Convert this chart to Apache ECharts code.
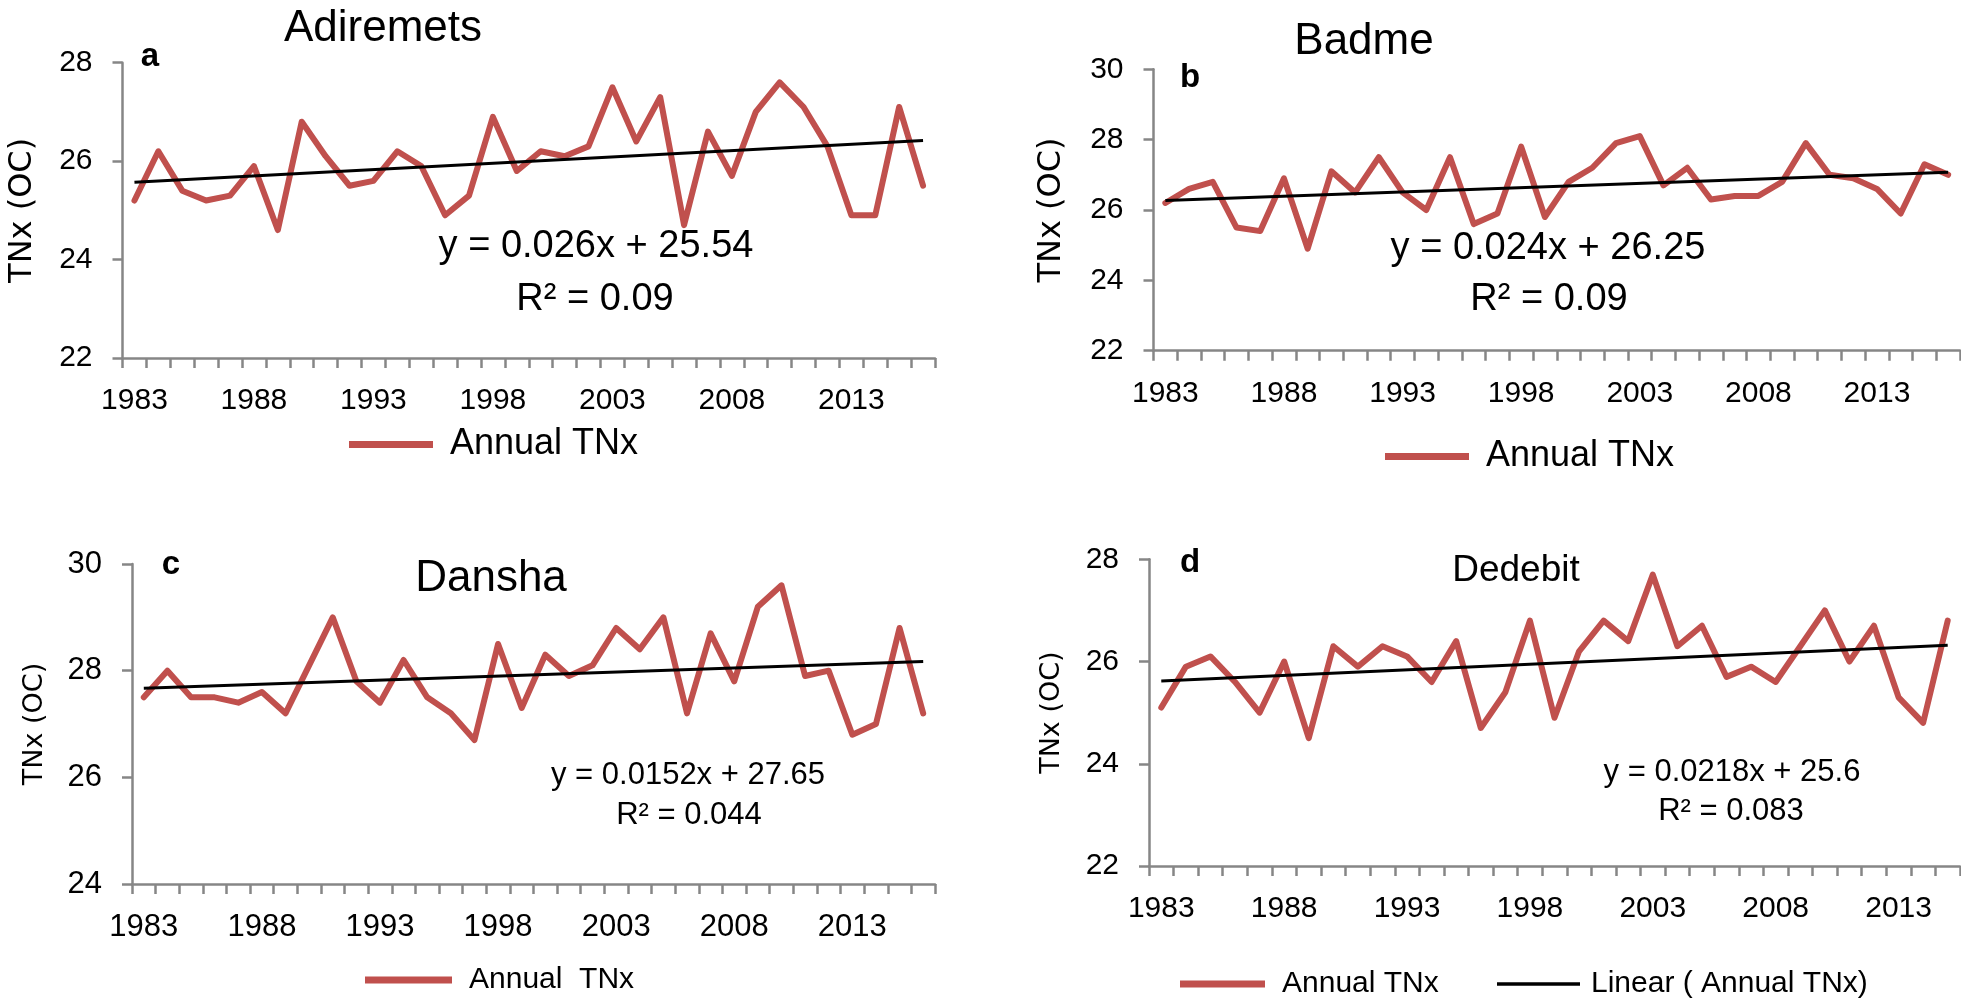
<!DOCTYPE html>
<html><head><meta charset="utf-8">
<script src="https://cdn.jsdelivr.net/npm/echarts@6/dist/echarts.min.js"></script>
<style>html,body{margin:0;padding:0;background:#fff}#chart{width:1961px;height:1003px}</style>
</head><body><div id="chart"></div>
<script>
// ---- data ----
const years34 = ['1983','1984','1985','1986','1987','1988','1989','1990','1991','1992','1993','1994','1995','1996','1997','1998','1999','2000','2001','2002','2003','2004','2005','2006','2007','2008','2009','2010','2011','2012','2013','2014','2015','2016'];
const years33 = ['1983','1984','1985','1986','1987','1988','1989','1990','1991','1992','1993','1994','1995','1996','1997','1998','1999','2000','2001','2002','2003','2004','2005','2006','2007','2008','2009','2010','2011','2012','2013','2014','2015'];
const valuesA = [25.2,26.2,25.4,25.2,25.3,25.9,24.6,26.8,26.1,25.5,25.6,26.2,25.9,24.9,25.3,26.9,25.8,26.2,26.1,26.3,27.5,26.4,27.3,24.7,26.6,25.7,27.0,27.6,27.1,26.3,24.9,24.9,27.1,25.5];
const valuesB = [26.2,26.6,26.8,25.5,25.4,26.9,24.9,27.1,26.5,27.5,26.5,26.0,27.5,25.6,25.9,27.8,25.8,26.8,27.2,27.9,28.1,26.7,27.2,26.3,26.4,26.4,26.8,27.9,27.0,26.9,26.6,25.9,27.3,27.0];
const valuesC = [27.5,28.0,27.5,27.5,27.4,27.6,27.2,28.1,29.0,27.8,27.4,28.2,27.5,27.2,26.7,28.5,27.3,28.3,27.9,28.1,28.8,28.4,29.0,27.2,28.7,27.8,29.2,29.6,27.9,28.0,26.8,27.0,28.8,27.2];
const valuesD = [25.1,25.9,26.1,25.6,25.0,26.0,24.5,26.3,25.9,26.3,26.1,25.6,26.4,24.7,25.4,26.8,24.9,26.2,26.8,26.4,27.7,26.3,26.7,25.7,25.9,25.6,26.3,27.0,26.0,26.7,25.3,24.8,26.8];
// trend line end values (first year, last year)
const trendA = [25.57, 26.42];
const trendB = [26.27, 27.07];
const trendC = [27.67, 28.17];
const trendD = [25.62, 26.32];
const yRangeA = [22, 28], yRangeB = [22, 30], yRangeC = [24, 30], yRangeD = [22, 28];
const stations = ['Adiremets', 'Badme', 'Dansha', 'Dedebit'];
const panelLetters = ['a', 'b', 'c', 'd'];
const equations = ['y = 0.026x + 25.54', 'y = 0.024x + 26.25', 'y = 0.0152x + 27.65', 'y = 0.0218x + 25.6'];
const r2Texts = ['R² = 0.09', 'R² = 0.09', 'R² = 0.044', 'R² = 0.083'];
const seriesNames = ['Annual TNx', 'Annual TNx', 'Annual  TNx', 'Annual TNx'];
const trendName = 'Linear ( Annual TNx)';
const yName = 'TNx (OC)';

// ---- layout ----
const RED = '#C0504D', AXIS = '#868686';
const FONT = '"Liberation Sans", Arial, sans-serif';
const panels = [
  {cats: years34, vals: valuesA, trend: trendA, yr: yRangeA,
   grid: {left: 122.5, top: 62.7, width: 812.5, height: 295.3},
   tickFont: 30, nameFont: 32, nameGap: 84,
   title: [383, 29, 44], letter: [150, 57], eq: [596, 247, 38], r2: [595, 300, 38],
   legend: {left: 344, cy: 443, font: 36, w: 84}},
  {cats: years34, vals: valuesB, trend: trendB, yr: yRangeB,
   grid: {left: 1153.5, top: 69.3, width: 806.5, height: 281.4},
   tickFont: 30, nameFont: 32, nameGap: 86,
   title: [1364, 42, 44], letter: [1190, 78], eq: [1548, 249, 38], r2: [1549, 300, 38],
   legend: {left: 1380, cy: 455, font: 36, w: 84}},
  {cats: years34, vals: valuesC, trend: trendC, yr: yRangeC,
   grid: {left: 132, top: 564, width: 803, height: 320},
   tickFont: 31, nameFont: 27, nameGap: 84,
   title: [491, 579, 44], letter: [171, 565], eq: [688, 775, 31], r2: [689, 815, 31],
   legend: {left: 360, cy: 978, font: 30, w: 87}},
  {cats: years33, vals: valuesD, trend: trendD, yr: yRangeD,
   grid: {left: 1149, top: 559.3, width: 811, height: 306.7},
   tickFont: 30, nameFont: 27, nameGap: 84,
   title: [1516, 571, 37], letter: [1190, 563], eq: [1732, 772, 31], r2: [1731, 811, 31],
   legend: {left: 1175, cy: 982, font: 30, w: 85}, legend2: {left: 1492}}
];

const option = {
  backgroundColor: '#fff', animation: false,
  grid: [], xAxis: [], yAxis: [], series: [], legend: [], graphic: []
};

panels.forEach((p, i) => {
  option.grid.push(Object.assign({containLabel: false}, p.grid));
  option.xAxis.push({
    type: 'category', gridIndex: i, data: p.cats, boundaryGap: true,
    axisLine: {lineStyle: {color: AXIS, width: 2.5}},
    axisTick: {show: true, interval: 0, length: 10, inside: false, lineStyle: {color: AXIS, width: 2.5}},
    axisLabel: {interval: 4, margin: 28, color: '#000', fontSize: p.tickFont, fontFamily: FONT},
    splitLine: {show: false}
  });
  option.yAxis.push({
    type: 'value', gridIndex: i, min: p.yr[0], max: p.yr[1], interval: 2,
    name: yName, nameLocation: 'middle', nameGap: p.nameGap,
    nameTextStyle: {color: '#000', fontSize: p.nameFont, fontFamily: '"DejaVu Sans", sans-serif'},
    axisLine: {show: true, lineStyle: {color: AXIS, width: 2.5}},
    axisTick: {show: true, length: 10, lineStyle: {color: AXIS, width: 2.5}},
    axisLabel: {margin: 30, color: '#000', fontSize: p.tickFont, fontFamily: FONT},
    splitLine: {show: false}
  });
  option.series.push({
    type: 'line', name: seriesNames[i], xAxisIndex: i, yAxisIndex: i,
    data: p.vals, symbol: 'none', z: 2,
    lineStyle: {color: RED, width: 6, cap: 'round', join: 'round'},
    itemStyle: {color: RED}
  });
  option.series.push({
    type: 'line', name: trendName, xAxisIndex: i, yAxisIndex: i,
    data: [[0, p.trend[0]], [p.cats.length - 1, p.trend[1]]], symbol: 'none', z: 3,
    lineStyle: {color: '#000', width: 3},
    itemStyle: {color: '#000'}
  });
  const L = p.legend;
  option.legend.push({
    left: L.left, top: L.cy - L.font * 0.6, itemWidth: L.w, itemHeight: 7, itemGap: 20,
    selectedMode: false,
    data: [{name: seriesNames[i], icon: 'rect', itemStyle: {color: RED}}],
    textStyle: {color: '#000', fontSize: L.font, fontFamily: FONT, padding: [0, 0, 0, 12]}
  });
  if (p.legend2) {
    option.legend.push({
      left: p.legend2.left, top: L.cy - L.font * 0.6, itemWidth: 83, itemHeight: 3.5,
      selectedMode: false,
      data: [{name: trendName, icon: 'rect', itemStyle: {color: '#000'}}],
      textStyle: {color: '#000', fontSize: L.font, fontFamily: FONT, padding: [0, 0, 0, 6]}
    });
  }
  const txt = (x, y, text, size, weight) => ({
    type: 'text', x: x, y: y, z: 10,
    style: {text: text, fill: '#000', font: (weight || 'normal') + ' ' + size + 'px ' + FONT,
            textAlign: 'center', textVerticalAlign: 'middle'}
  });
  option.graphic.push(txt(p.title[0], p.title[1], stations[i], p.title[2]));
  option.graphic.push(txt(p.letter[0], p.letter[1], panelLetters[i], 33, 'bold'));
  option.graphic.push(txt(p.eq[0], p.eq[1], equations[i], p.eq[2]));
  option.graphic.push(txt(p.r2[0], p.r2[1], r2Texts[i], p.r2[2]));
});

const chart = echarts.init(document.getElementById('chart'), null, {renderer: 'canvas'});
chart.setOption(option);
</script></body></html>
